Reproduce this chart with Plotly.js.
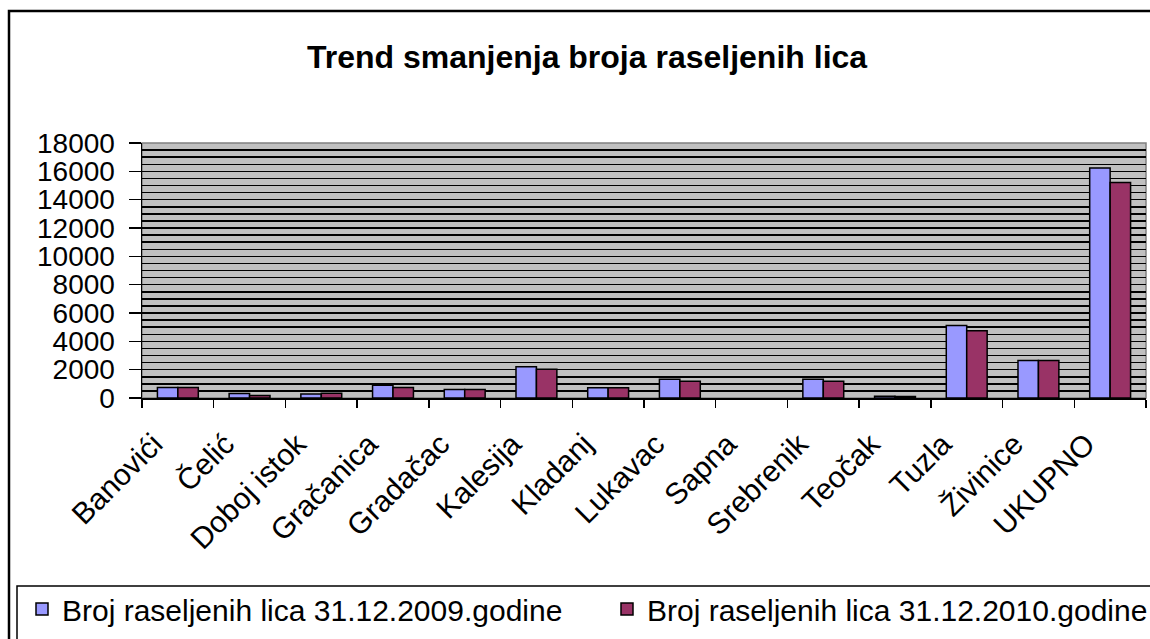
<!DOCTYPE html>
<html>
<head>
<meta charset="utf-8">
<script src="https://cdn.plot.ly/plotly-3.0.1.min.js"></script>
<style>html,body{margin:0;padding:0;background:#fff;}#chart{width:1150px;height:639px;}</style>
</head>
<body>
<div id="chart"></div>
<script>
const categories = ["Banovići","Čelić","Doboj istok","Gračanica","Gradačac","Kalesija","Kladanj","Lukavac","Sapna","Srebrenik","Teočak","Tuzla","Živinice","UKUPNO"];
const values2009 = [740, 310, 280, 900, 600, 2200, 730, 1330, null, 1330, 120, 5110, 2650, 16230];
const values2010 = [740, 170, 330, 740, 600, 2030, 730, 1180, null, 1180, 110, 4750, 2650, 15220];
const seriesNames = ["Broj raseljenih lica 31.12.2009.godine", "Broj raseljenih lica 31.12.2010.godine"];
const yTicks = [0, 2000, 4000, 6000, 8000, 10000, 12000, 14000, 16000, 18000];

const FONT = "Arial, 'Liberation Sans', sans-serif";
const L = 142, R = 4, T = 143, B = 241;
const W = 1150 - L - R, H = 639 - T - B;
const px = x => (x - L) / W;
const py = y => (639 - B - y) / H;

const traces = [
  {type: "bar", name: seriesNames[0], x: categories, y: values2009, legend: "legend",
   marker: {color: "#9999ff", line: {color: "#000", width: 1.5}}},
  {type: "bar", name: seriesNames[1], x: categories, y: values2010, legend: "legend2",
   marker: {color: "#993366", line: {color: "#000", width: 1.5}}}
];

const legendBase = {orientation: "h", xanchor: "left", yanchor: "top",
  font: {size: 30, family: FONT, color: "#000"}, bgcolor: "rgba(0,0,0,0)", itemwidth: 30};

const layout = {
  width: 1150, height: 639,
  margin: {l: L, r: R, t: T, b: B, autoexpand: false},
  paper_bgcolor: "#fff",
  plot_bgcolor: "#c0c0c0",
  font: {family: FONT, color: "#000"},
  title: {text: "<b>Trend smanjenja broja raseljenih lica</b>", font: {size: 32, family: FONT, color: "#000"},
          x: 587/1150, xref: "container", xanchor: "center", y: 1 - 57/639, yref: "container", yanchor: "middle"},
  barmode: "group", bargap: 0.43, bargroupgap: 0,
  showlegend: true,
  legend: Object.assign({}, legendBase, {x: px(22), y: py(583)}),
  legend2: Object.assign({}, legendBase, {x: px(607), y: py(583)}),
  xaxis: {type: "category", tickangle: -45, tickson: "boundaries", ticks: "outside", ticklen: 8,
          tickcolor: "#000", tickwidth: 1.5, showline: true, linecolor: "#000", linewidth: 1.5,
          ticklabelstandoff: 15, ticklabelshift: -24,
          showgrid: false, tickfont: {size: 30, family: FONT, color: "#000"}, automargin: false},
  yaxis: {range: [0, 18000], tickvals: yTicks, tickformat: "d", ticks: "outside", ticklen: 12, tickcolor: "#000", tickwidth: 1.5,
          ticklabelstandoff: 8,
          showline: true, linecolor: "#000", linewidth: 1.5, showgrid: true, gridcolor: "#000", gridwidth: 1.5,
          minor: {dtick: 500, showgrid: true, gridcolor: "#000", gridwidth: 1.5},
          zeroline: false, tickfont: {size: 28, family: FONT, color: "#000"}, automargin: false},
  shapes: [
    {type: "rect", xref: "paper", yref: "paper", x0: 0, x1: 1, y0: 0, y1: 1, line: {color: "#808080", width: 1.5}, layer: "below"},
    {type: "rect", xref: "paper", yref: "paper", x0: px(9), x1: px(1153), y0: py(642), y1: py(11), line: {color: "#000", width: 2.5}},
    {type: "rect", xref: "paper", yref: "paper", x0: px(17), x1: px(1153), y0: py(642), y1: py(586), line: {color: "#000", width: 1.5}}
  ]
};

Plotly.newPlot("chart", traces, layout, {displayModeBar: false, staticPlot: true});
</script>
</body>
</html>
